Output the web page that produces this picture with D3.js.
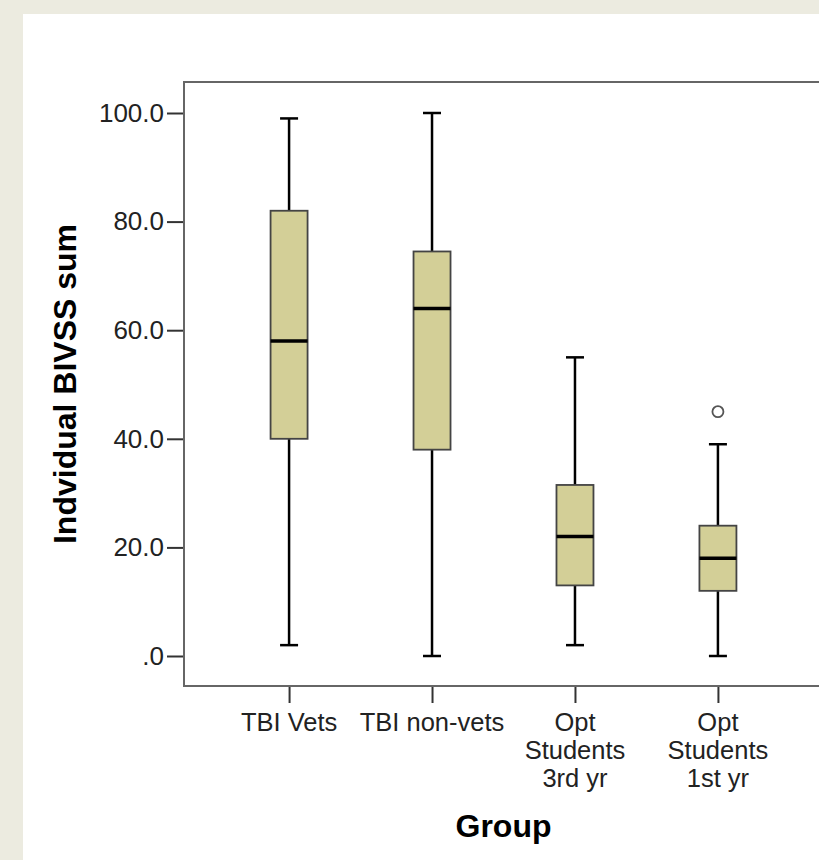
<!DOCTYPE html>
<html>
<head>
<meta charset="utf-8">
<script src="https://cdn.jsdelivr.net/npm/d3@7"></script>
<style>
  html, body { margin: 0; padding: 0; background: #ecebe0; }
  svg { display: block; }
</style>
</head>
<body>
<div id="chart"></div>
<script>
// box plot values
const groups = ["TBI Vets", "TBI non-vets", "Opt Students 3rd yr", "Opt Students 1st yr"];
const groupLabels = [["TBI Vets"], ["TBI non-vets"], ["Opt", "Students", "3rd yr"], ["Opt", "Students", "1st yr"]];
const whiskerLow = [2, 0, 2, 0];
const q1 = [40, 38, 13, 12];
const median = [58, 64, 22, 18];
const q3 = [82, 74.5, 31.5, 24];
const whiskerHigh = [99, 100, 55, 39];
const outliers = [[], [], [], [45]];
const yTicks = [0, 20, 40, 60, 80, 100];

const W = 819, H = 860;
const frame = { left: 184, top: 82, right: 823, bottom: 686 };

const svg = d3.select("#chart").append("svg")
  .attr("width", W)
  .attr("height", H);

// beige border + white panel
svg.append("rect").attr("width", W).attr("height", H).attr("fill", "#ecebe0");
svg.append("rect").attr("x", 23).attr("y", 14).attr("width", W - 23).attr("height", H - 14).attr("fill", "#fff");

const y = d3.scaleLinear()
  .domain([(656 - frame.bottom) / 5.43, (656 - frame.top) / 5.43])
  .range([frame.bottom, frame.top]);

const x = d3.scalePoint()
  .domain(groups)
  .range([frame.left, frame.right])
  .padding(0.735);

const fmt = v => v === 0 ? ".0" : d3.format(".1f")(v);

// y axis
const yAxis = svg.append("g")
  .attr("transform", `translate(${frame.left},0)`)
  .call(d3.axisLeft(y).tickValues(yTicks).tickSize(17).tickPadding(3).tickFormat(fmt));
yAxis.select(".domain").remove();
yAxis.selectAll("line").attr("stroke", "#333").attr("stroke-width", 2);
yAxis.selectAll("text")
  .attr("font-family", "Liberation Sans, Arial, sans-serif")
  .attr("font-size", 26)
  .attr("fill", "#222");

// x axis
const xAxis = svg.append("g")
  .attr("transform", `translate(0,${frame.bottom})`)
  .call(d3.axisBottom(x).tickSize(17).tickFormat(""));
xAxis.select(".domain").remove();
xAxis.selectAll("line").attr("stroke", "#333").attr("stroke-width", 2);

groups.forEach((g, i) => {
  groupLabels[i].forEach((line, j) => {
    svg.append("text")
      .attr("x", x(g))
      .attr("y", 731 + j * 28)
      .attr("text-anchor", "middle")
      .attr("font-family", "Liberation Sans, Arial, sans-serif")
      .attr("font-size", 25.5)
      .attr("fill", "#222")
      .text(line);
  });
});

// frame
svg.append("path")
  .attr("d", `M${frame.right},${frame.top}H${frame.left}V${frame.bottom}H${frame.right}`)
  .attr("fill", "none")
  .attr("stroke", "#666")
  .attr("stroke-width", 2);

// boxes
const boxW = 37, capW = 18;
groups.forEach((g, i) => {
  const cx = x(g);
  const b = svg.append("g");
  // whiskers
  b.append("line")
    .attr("x1", cx).attr("x2", cx)
    .attr("y1", y(whiskerHigh[i])).attr("y2", y(q3[i]))
    .attr("stroke", "#000").attr("stroke-width", 2.5);
  b.append("line")
    .attr("x1", cx).attr("x2", cx)
    .attr("y1", y(q1[i])).attr("y2", y(whiskerLow[i]))
    .attr("stroke", "#000").attr("stroke-width", 2.5);
  [whiskerHigh[i], whiskerLow[i]].forEach(v => {
    b.append("line")
      .attr("x1", cx - capW / 2).attr("x2", cx + capW / 2)
      .attr("y1", y(v)).attr("y2", y(v))
      .attr("stroke", "#000").attr("stroke-width", 2.5);
  });
  b.append("rect")
    .attr("x", cx - boxW / 2)
    .attr("y", y(q3[i]))
    .attr("width", boxW)
    .attr("height", y(q1[i]) - y(q3[i]))
    .attr("fill", "#d3cf97")
    .attr("stroke", "#444")
    .attr("stroke-width", 1.8);
  b.append("line")
    .attr("x1", cx - boxW / 2).attr("x2", cx + boxW / 2)
    .attr("y1", y(median[i])).attr("y2", y(median[i]))
    .attr("stroke", "#000").attr("stroke-width", 3.5);
  outliers[i].forEach(v => {
    b.append("circle")
      .attr("cx", cx).attr("cy", y(v)).attr("r", 5.5)
      .attr("fill", "#fff").attr("stroke", "#555").attr("stroke-width", 1.8);
  });
});

// axis titles
svg.append("text")
  .attr("transform", "translate(76,384) rotate(-90)")
  .attr("text-anchor", "middle")
  .attr("font-family", "Liberation Sans, Arial, sans-serif")
  .attr("font-weight", "bold")
  .attr("font-size", 32)
  .attr("fill", "#000")
  .text("Indvidual BIVSS sum");

svg.append("text")
  .attr("x", (frame.left + frame.right) / 2)
  .attr("y", 837)
  .attr("text-anchor", "middle")
  .attr("font-family", "Liberation Sans, Arial, sans-serif")
  .attr("font-weight", "bold")
  .attr("font-size", 32)
  .attr("fill", "#000")
  .text("Group");
</script>
</body>
</html>
